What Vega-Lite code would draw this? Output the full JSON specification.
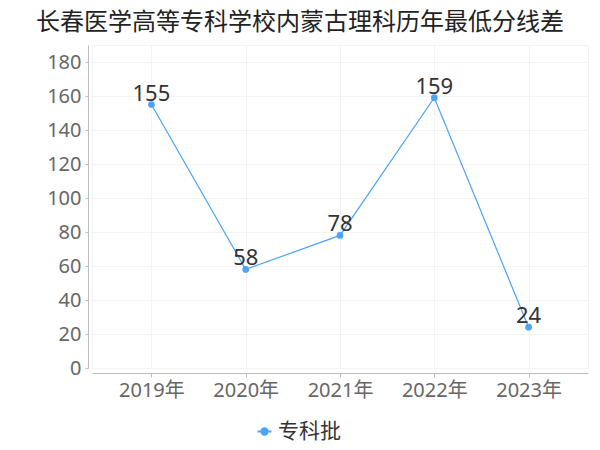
{
  "$schema": "https://vega.github.io/schema/vega-lite/v6.json",
  "autosize": {"type": "none"},
  "width": 496,
  "height": 323,
  "padding": {"left": 92, "top": 45, "right": 12, "bottom": 82},
  "config": {
    "font": "Noto Sans, Noto Sans CJK SC",
    "view": {"stroke": "#f2f2f2", "strokeWidth": 1}
  },
  "title": {
    "text": "长春医学高等专科学校内蒙古理科历年最低分线差",
    "fontSize": 24,
    "fontWeight": "normal",
    "color": "#222222",
    "anchor": "middle",
    "dx": -40,
    "offset": 10
  },
  "data": {
    "values": [
      {"year": "2019年", "score": 155, "batch": "专科批"},
      {"year": "2020年", "score": 58, "batch": "专科批"},
      {"year": "2021年", "score": 78, "batch": "专科批"},
      {"year": "2022年", "score": 159, "batch": "专科批"},
      {"year": "2023年", "score": 24, "batch": "专科批"}
    ]
  },
  "encoding": {
    "x": {
      "field": "year",
      "type": "ordinal",
      "scale": {"type": "point", "padding": 0.63},
      "axis": {
        "title": null,
        "labelAngle": 0,
        "labelFontSize": 20,
        "labelColor": "#666666",
        "labelPadding": 3,
        "domainColor": "#bbbbbb",
        "tickColor": "#bbbbbb",
        "tickSize": 4,
        "offset": 5,
        "grid": true,
        "gridColor": "#f3f3f3"
      }
    },
    "y": {
      "field": "score",
      "type": "quantitative",
      "scale": {"domain": [0, 190], "nice": false},
      "axis": {
        "title": null,
        "values": [0, 20, 40, 60, 80, 100, 120, 140, 160, 180],
        "labelFontSize": 20,
        "labelColor": "#666666",
        "labelPadding": 4,
        "domainColor": "#bbbbbb",
        "tickColor": "#bbbbbb",
        "tickSize": 3,
        "offset": 4,
        "gridColor": "#f3f3f3"
      }
    }
  },
  "layer": [
    {
      "mark": {"type": "line", "color": "#4da3f7", "strokeWidth": 1.2, "point": {"filled": true, "size": 45, "color": "#4da3f7"}},
      "encoding": {
        "color": {
          "field": "batch",
          "type": "nominal",
          "scale": {"range": ["#4da3f7"]},
          "legend": {
            "title": null,
            "orient": "none",
            "legendX": 162,
            "legendY": 376,
            "labelFontSize": 21,
            "labelColor": "#333333",
            "labelOffset": 3,
            "symbolType": "M-1,0H1M-0.45,0A0.45,0.45 0 1,1 0.45,0A0.45,0.45 0 1,1 -0.45,0Z",
            "symbolSize": 196,
            "symbolStrokeWidth": 2,
            "symbolFillColor": "#4da3f7",
            "symbolStrokeColor": "#4da3f7"
          }
        }
      }
    },
    {
      "mark": {"type": "text", "fontSize": 22, "color": "#333333", "baseline": "alphabetic", "dy": -4},
      "encoding": {"text": {"field": "score", "type": "quantitative"}}
    }
  ]
}
